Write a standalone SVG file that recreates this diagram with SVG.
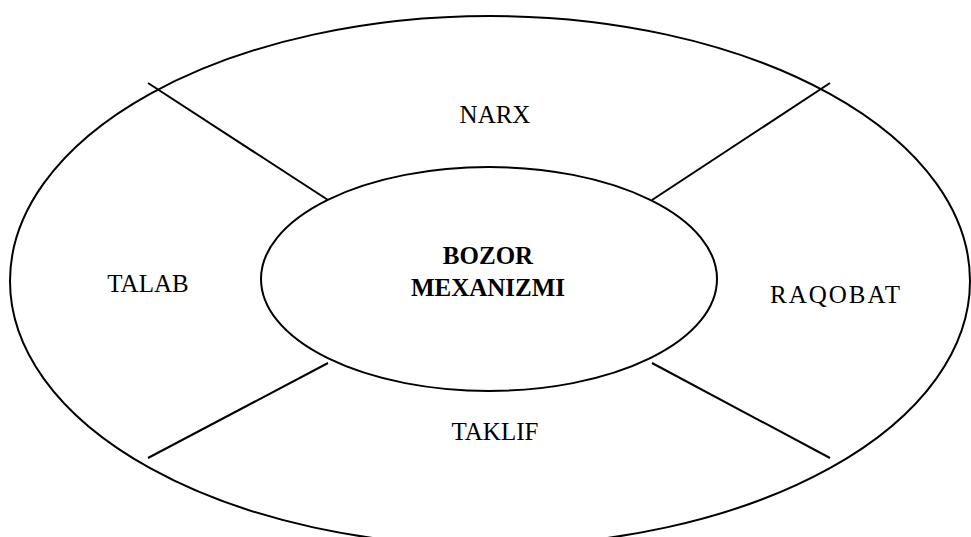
<svg xmlns="http://www.w3.org/2000/svg" width="971" height="537" viewBox="0 0 971 537">
<style>
.shape{fill:none;stroke:#000;stroke-width:2}
.lbl{font-family:"Liberation Serif","Times New Roman",serif;font-size:25px;fill:#000;text-anchor:middle}
.b{font-weight:bold}
</style>
<rect width="971" height="537" fill="#fff"/>
<g id="outer">
<ellipse class="shape" cx="490" cy="281" rx="480" ry="265"/>
</g>
<g id="connectors">
<line class="shape" x1="148" y1="83" x2="328" y2="200"/>
<line class="shape" x1="830" y1="83" x2="652" y2="200"/>
<line class="shape" x1="148" y1="458" x2="328" y2="363"/>
<line class="shape" x1="830" y1="458" x2="652" y2="363"/>
</g>
<g id="center">
<ellipse class="shape" cx="489" cy="279" rx="228" ry="112"/>
<text class="lbl b" x="488" y="264">BOZOR</text>
<text class="lbl b" x="488" y="296">MEXANIZMI</text>
</g>
<g id="narx"><text class="lbl" x="495" y="123">NARX</text></g>
<g id="talab"><text class="lbl" x="148" y="292">TALAB</text></g>
<g id="raqobat"><text class="lbl" x="836" y="303" letter-spacing="2">RAQOBAT</text></g>
<g id="taklif"><text class="lbl" x="495" y="440">TAKLIF</text></g>
</svg>
